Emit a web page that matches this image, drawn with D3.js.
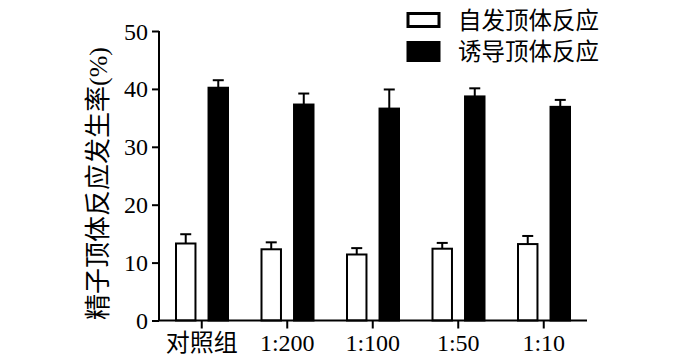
<!DOCTYPE html>
<html>
<head>
<meta charset="utf-8">
<script src="https://cdn.jsdelivr.net/npm/d3@7"></script>
</head>
<body style="margin:0">
<script>
// data
var groups = ["对照组", "1:200", "1:100", "1:50", "1:10"];
var seriesNames = ["自发顶体反应", "诱导顶体反应"];
var spontaneous = [13.3, 12.3, 11.4, 12.4, 13.2];
var spontaneousErr = [1.6, 1.2, 1.1, 1.0, 1.4];
var induced = [40.2, 37.3, 36.6, 38.7, 36.9];
var inducedErr = [1.3, 1.9, 3.3, 1.4, 1.2];
var yTicks = [0, 10, 20, 30, 40, 50];

var W = 700, H = 358;
var SERIF = "'Liberation Serif'";
var CJK = "'Noto Sans CJK SC'";

var svg = d3.select("body").append("svg")
	.attr("width", W)
	.attr("height", H);

var x0 = d3.scaleBand().domain(groups).range([159, 586.5]).padding(0);
var x1 = d3.scaleBand().domain([0, 1]).range([16, 70]).paddingInner(0.34);
var y = d3.scaleLinear().domain([0, 50]).range([320.5, 31]);

var fills = ["#fff", "#000"];
var vals = [spontaneous, induced];
var errs = [spontaneousErr, inducedErr];

// bars + error bars (only upward)
groups.forEach(function (g, i) {
	[0, 1].forEach(function (s) {
		var bx = x0(g) + x1(s);
		var bw = x1.bandwidth();
		var v = vals[s][i], e = errs[s][i];
		var cx = bx + bw / 2;
		svg.append("line")
			.attr("x1", cx).attr("x2", cx)
			.attr("y1", y(v)).attr("y2", y(v + e))
			.attr("stroke", "#000").attr("stroke-width", 2);
		svg.append("line")
			.attr("x1", cx - 5.5).attr("x2", cx + 5.5)
			.attr("y1", y(v + e)).attr("y2", y(v + e))
			.attr("stroke", "#000").attr("stroke-width", 2);
		svg.append("rect")
			.attr("x", bx + 1).attr("y", y(v))
			.attr("width", bw - 2).attr("height", y(0) - y(v))
			.attr("fill", fills[s])
			.attr("stroke", "#000").attr("stroke-width", 2);
	});
});

// axes: lines from d3 axis, labels drawn straight on the svg (fonts behave there)
var yAxis = svg.append("g")
	.attr("transform", "translate(159,0)")
	.call(d3.axisLeft(y).tickValues(yTicks).tickSize(7).tickFormat(""));
yAxis.select(".domain").attr("stroke-width", 2).attr("d", "M0," + y(50) + "V" + y(0));
yAxis.selectAll(".tick line").attr("stroke-width", 2);
yAxis.selectAll("text").remove();

var xAxis = svg.append("g")
	.attr("transform", "translate(0," + y(0) + ")")
	.call(d3.axisBottom(x0).tickSize(8).tickFormat(""));
xAxis.select(".domain").attr("stroke-width", 2).attr("d", "M158,0H587");
xAxis.selectAll(".tick line").attr("stroke-width", 2);
xAxis.selectAll("text").remove();

yTicks.forEach(function (t) {
	svg.append("text")
		.attr("x", 148).attr("y", y(t) + 8.5)
		.attr("text-anchor", "end")
		.style("font-family", SERIF).style("font-size", "24px")
		.text(t);
});
groups.forEach(function (g) {
	var isNum = /^[0-9:]+$/.test(g);
	svg.append("text")
		.attr("x", x0(g) + x0.bandwidth() / 2).attr("y", 351)
		.attr("text-anchor", "middle")
		.style("font-family", isNum ? SERIF : CJK).style("font-size", "24px")
		.text(g);
});

// y title: CJK part + serif (%)
var t1 = svg.append("text")
	.attr("transform", "translate(107,320) rotate(-90)")
	.style("font-family", CJK).style("font-size", "26px")
	.text("精子顶体反应发生率");
var len = t1.node().getComputedTextLength();
svg.append("text")
	.attr("transform", "translate(107," + (320 - len) + ") rotate(-90)")
	.style("font-family", SERIF).style("font-size", "26px")
	.text("(%)");

// legend
seriesNames.forEach(function (name, s) {
	var ly = [20, 51.5][s];
	svg.append("rect")
		.attr("x", 408).attr("y", s ? ly - 9 : ly - 6.5)
		.attr("width", 31).attr("height", s ? 18 : 13)
		.attr("fill", fills[s])
		.attr("stroke", "#000").attr("stroke-width", 3);
	svg.append("text")
		.attr("x", 458).attr("y", ly + 8.5)
		.style("font-family", CJK).style("font-size", "23.5px")
		.text(name);
});
</script>
</body>
</html>
